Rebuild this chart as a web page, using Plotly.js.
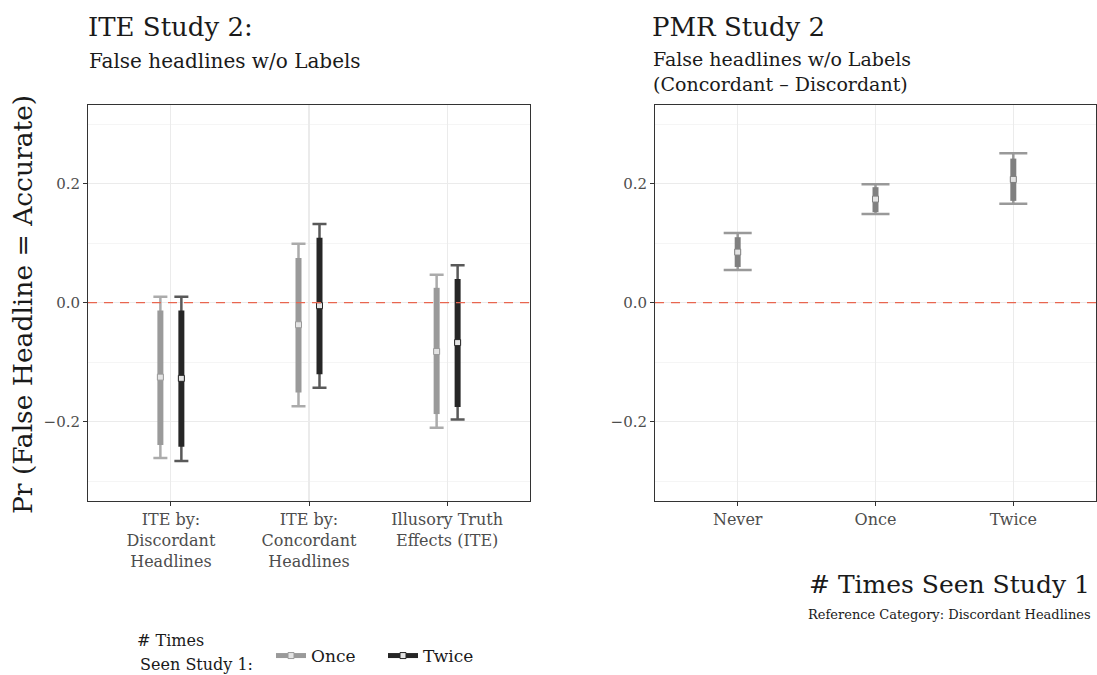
<!DOCTYPE html>
<html>
<head>
<meta charset="utf-8">
<script src="https://cdn.plot.ly/plotly-3.0.1.min.js"></script>
<style>html,body{margin:0;padding:0;background:#fff;}#chart{width:1097px;height:675px;}</style>
</head>
<body>
<div id="chart"></div>
<script>
// ---------- data ----------
const iteCategories = ['ITE by:<br>Discordant<br>Headlines', 'ITE by:<br>Concordant<br>Headlines', 'Illusory Truth<br>Effects (ITE)'];
const onceEst  = [-0.125, -0.037, -0.082];
const onceLo95 = [-0.261, -0.174, -0.210];
const onceHi95 = [ 0.010,  0.099,  0.047];
const onceLo90 = [-0.239, -0.151, -0.187];
const onceHi90 = [-0.013,  0.075,  0.025];

const twiceEst  = [-0.127, -0.005, -0.067];
const twiceLo95 = [-0.266, -0.143, -0.196];
const twiceHi95 = [ 0.010,  0.132,  0.063];
const twiceLo90 = [-0.242, -0.120, -0.175];
const twiceHi90 = [-0.013,  0.109,  0.040];

const pmrCategories = ['Never', 'Once', 'Twice'];
const pmrEst  = [0.085, 0.174, 0.207];
const pmrLo95 = [0.055, 0.149, 0.166];
const pmrHi95 = [0.117, 0.199, 0.251];
const pmrLo90 = [0.060, 0.152, 0.171];
const pmrHi90 = [0.110, 0.194, 0.242];

const yTickVals = [-0.2, 0.0, 0.2];

// ---------- helpers ----------
const FONT = 'DejaVu Serif, serif';
const W = 1097, H = 675, ML = 88, MR = 1, MT = 105, MB = 174;
const PW = W - ML - MR, PH = H - MT - MB;
const px = v => (v - ML) / PW;
const py = v => (H - MB - v) / PH;
const dodge = 0.076;

function pos(n, off) { return Array.from({length: n}, (_, i) => i + off); }
function up(hi, est) { return hi.map((h, i) => h - est[i]); }
function dn(lo, est) { return lo.map((l, i) => est[i] - l); }

function whisker(xs, est, lo, hi, color, xa, ya, capw) {
  return {
    type: 'scatter', mode: 'markers', x: xs, y: est, xaxis: xa, yaxis: ya,
    marker: {size: 1, color: 'rgba(0,0,0,0)'}, showlegend: false, hoverinfo: 'skip',
    error_y: {type: 'data', symmetric: false, array: up(hi, est), arrayminus: dn(lo, est),
              color: color, thickness: 2.5, width: capw}
  };
}
function thick(xs, est, lo, hi, color, xa, ya, name) {
  return {
    type: 'scatter', mode: 'markers', x: xs, y: est, xaxis: xa, yaxis: ya, name: name,
    marker: {symbol: 'square', size: 6, color: '#e3e3e3', line: {color: color, width: 1}},
    showlegend: false,
    error_y: {type: 'data', symmetric: false, array: up(hi, est), arrayminus: dn(lo, est),
              color: color, thickness: 6, width: 0}
  };
}
function legendKey(name, color) {
  return {
    type: 'scatter', mode: 'lines+markers', x: [null], y: [null], name: name,
    line: {color: color, width: 5},
    marker: {symbol: 'square', size: 6, color: '#e3e3e3', line: {color: color, width: 1}},
    showlegend: true
  };
}

const xOnce = pos(3, -dodge), xTwice = pos(3, dodge), xPmr = pos(3, 0);

const traces = [
  whisker(xOnce, onceEst, onceLo95, onceHi95, '#ababab', 'x', 'y', 7),
  whisker(xTwice, twiceEst, twiceLo95, twiceHi95, '#595959', 'x', 'y', 7),
  thick(xOnce, onceEst, onceLo90, onceHi90, '#9a9a9a', 'x', 'y', 'Once'),
  thick(xTwice, twiceEst, twiceLo90, twiceHi90, '#262626', 'x', 'y', 'Twice'),
  whisker(xPmr, pmrEst, pmrLo95, pmrHi95, '#999999', 'x2', 'y2', 14),
  thick(xPmr, pmrEst, pmrLo90, pmrHi90, '#808080', 'x2', 'y2', 'PMR'),
  legendKey('Once', '#9a9a9a'),
  legendKey('Twice', '#262626')
];

const xCommon = {
  range: [-0.6, 2.6], tickvals: [0, 1, 2], showgrid: true, gridcolor: '#ebebeb', gridwidth: 1.1,
  zeroline: false, ticks: 'outside', ticklen: 4, tickcolor: '#333333', tickwidth: 1,
  showline: true, mirror: true, linecolor: '#333333', linewidth: 1,
  tickfont: {family: FONT, size: 16, color: '#4d4d4d'}, fixedrange: true
};
const yCommon = {
  range: [-0.333, 0.332], tickvals: yTickVals, tickformat: '.1f',
  showgrid: true, gridcolor: '#ebebeb', gridwidth: 1.1,
  minor: {dtick: 0.1, tick0: 0, showgrid: true, gridcolor: '#f3f3f3', gridwidth: 0.8},
  zeroline: false, ticks: 'outside', ticklen: 4, tickcolor: '#333333', tickwidth: 1,
  showline: true, mirror: true, linecolor: '#333333', linewidth: 1,
  tickfont: {family: FONT, size: 15, color: '#4d4d4d'}, fixedrange: true
};

const ann = (text, x, y, size, opts) => Object.assign({
  text: text, xref: 'paper', yref: 'paper', x: px(x), y: py(y), showarrow: false,
  xanchor: 'left', yanchor: 'middle', align: 'left', font: {family: FONT, size: size, color: '#1a1a1a'}
}, opts || {});

const zeroLine = (xd, ya) => ({type: 'line', xref: xd, yref: ya, x0: 0, x1: 1, y0: 0, y1: 0, layer: 'above',
  line: {color: '#e8664f', width: 1.3, dash: '9px,7px'}});

const layout = {
  width: W, height: H, margin: {l: ML, r: MR, t: MT, b: MB},
  paper_bgcolor: '#ffffff', plot_bgcolor: '#ffffff',
  font: {family: FONT},
  xaxis: Object.assign({}, xCommon, {domain: [0, 442 / PW], ticktext: iteCategories, anchor: 'y'}),
  yaxis: Object.assign({}, yCommon, {anchor: 'x'}),
  xaxis2: Object.assign({}, xCommon, {domain: [(655 - ML) / PW, 1], ticktext: pmrCategories, anchor: 'y2'}),
  yaxis2: Object.assign({}, yCommon, {anchor: 'x2'}),
  shapes: [zeroLine('x domain', 'y'), zeroLine('x2 domain', 'y2')],
  showlegend: true,
  legend: {orientation: 'h', xref: 'container', yref: 'container', x: 271 / W, y: (H - 656) / H,
           xanchor: 'left', yanchor: 'middle', bgcolor: 'rgba(0,0,0,0)', borderwidth: 0,
           font: {family: FONT, size: 17, color: '#1a1a1a'}, entrywidth: 67, entrywidthmode: 'pixels'},
  annotations: [
    ann('ITE Study 2:', 86, 27, 26),
    ann('False headlines w/o Labels', 87, 61, 20),
    ann('PMR Study 2', 650, 27, 26),
    ann('False headlines w/o Labels<br>(Concordant \u2013 Discordant)', 651, 71, 19),
    ann('Pr (False Headline = Accurate)', 22, 305, 26.5, {xanchor: 'center', textangle: -90}),
    ann('# Times Seen Study 1', 1092, 584, 25, {xanchor: 'right'}),
    ann('Reference Category: Discordant Headlines', 1093, 614, 13, {xanchor: 'right'}),
    ann('# Times', 135, 640, 16),
    ann(' Seen Study 1:', 133, 664, 16)
  ]
};

Plotly.newPlot('chart', traces, layout, {displayModeBar: false, staticPlot: true});
</script>
</body>
</html>
